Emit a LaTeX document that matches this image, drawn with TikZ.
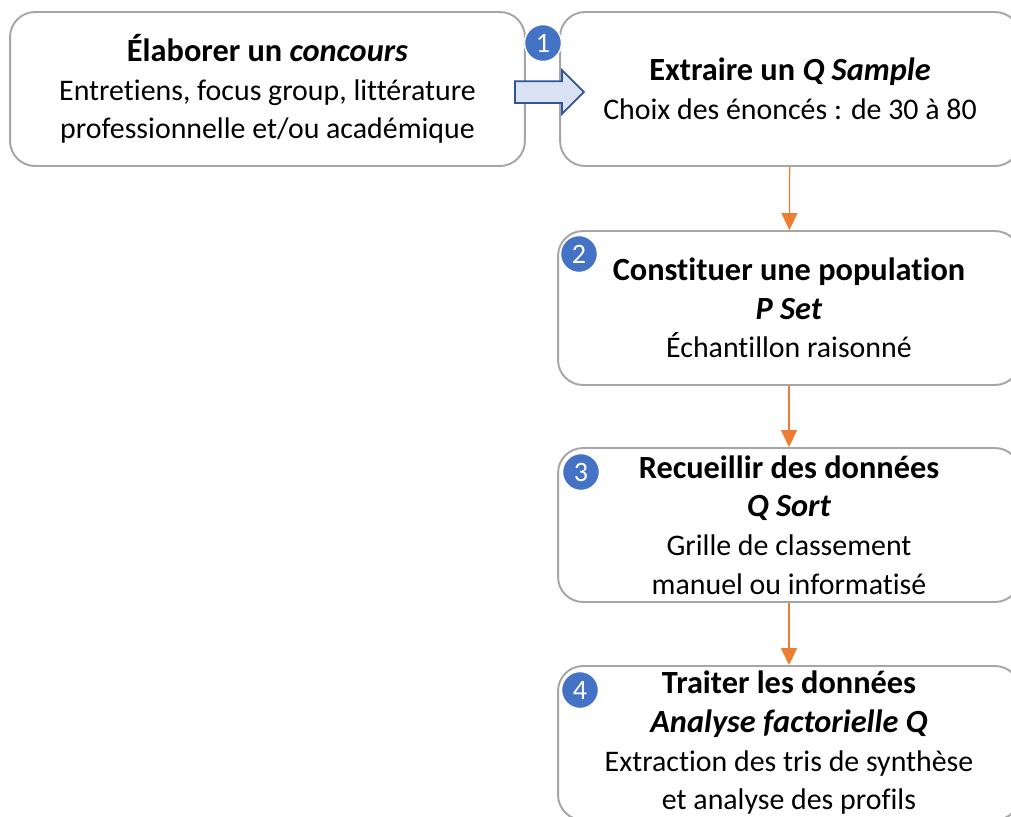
\documentclass[tikz,border=0pt]{standalone}
\usepackage{fontspec}
\setmainfont{Carlito}[Ligatures=NoCommon]
\usetikzlibrary{shapes.arrows, arrows.meta, positioning}
\definecolor{cadre}{HTML}{A6A6A6}
\definecolor{pastille}{HTML}{4472C4}
\definecolor{flechebleue}{HTML}{DAE3F3}
\definecolor{bordbleu}{HTML}{2F5597}
\definecolor{orange}{HTML}{ED7D31}
\newcommand{\titre}[1]{{\fontsize{18.4}{22}\selectfont\bfseries #1}}

\begin{document}
\begin{tikzpicture}[
    x=0.02cm, y=-0.02cm,
    every node/.style={font=\fontsize{17}{22}\selectfont},
    etape/.style={draw=cadre, line width=1.1pt, rounded corners=0.5cm,
                  minimum height=3.08cm, align=center, inner sep=0pt},
    num/.style={circle, fill=pastille, draw=white, line width=0.8pt,
                minimum size=0.74cm, inner sep=0pt, text=white,
                font=\fontsize{16}{18}\selectfont},
    arr/.style={-{Triangle[length=3.4mm, width=3.2mm]}, draw=orange, fill=orange, line width=0.7pt}
]
    \clip (0,0) rectangle (1011,816);
    \fill[white] (0,0) rectangle (1011,816);

    \node[etape, minimum width=10.3cm] (concours) at (267.5, 89)
        {\titre{Élaborer un \textit{concours}}\\
         Entretiens, focus group, littérature\\
         professionnelle et/ou académique};
    \node[etape, minimum width=9.2cm] (sample) at (790, 89)
        {\titre{Extraire un \textit{Q Sample}}\\
         Choix des énoncés : de 30 à 80};
    \node[etape, minimum width=9.24cm] (pset) at (789, 308)
        {\titre{Constituer une population}\\
         \titre{\textit{P Set}}\\
         Échantillon raisonné};
    \node[etape, minimum width=9.24cm] (qsort) at (789, 525)
        {\titre{Recueillir des données}\\
         \titre{\textit{Q Sort}}\\
         Grille de classement\\
         manuel ou informatisé};
    \node[etape, minimum width=9.24cm] (analyse) at (789, 743)
        {\titre{Traiter les données}\\
         \titre{\textit{Analyse factorielle Q}}\\
         Extraction des tris de synthèse\\
         et analyse des profils};

    \node[num] (n1) at (543, 43)  {1};
    \node[num] (n2) at (579, 254) {2};
    \node[num] (n3) at (581, 472) {3};
    \node[num] (n4) at (580, 690) {4};

    % fleche creuse entre les deux premieres etapes
    \node[single arrow, draw=bordbleu, fill=flechebleue, line width=1pt,
          inner xsep=0pt, inner ysep=0.2cm, minimum height=1.38cm,
          single arrow head extend=0.22cm, single arrow head indent=0pt]
          (fleche) at (544, 92) {};

    \draw[arr] (sample) -- (pset);
    \draw[arr] (pset) -- (qsort);
    \draw[arr] (qsort) -- (analyse);
\end{tikzpicture}
\end{document}
